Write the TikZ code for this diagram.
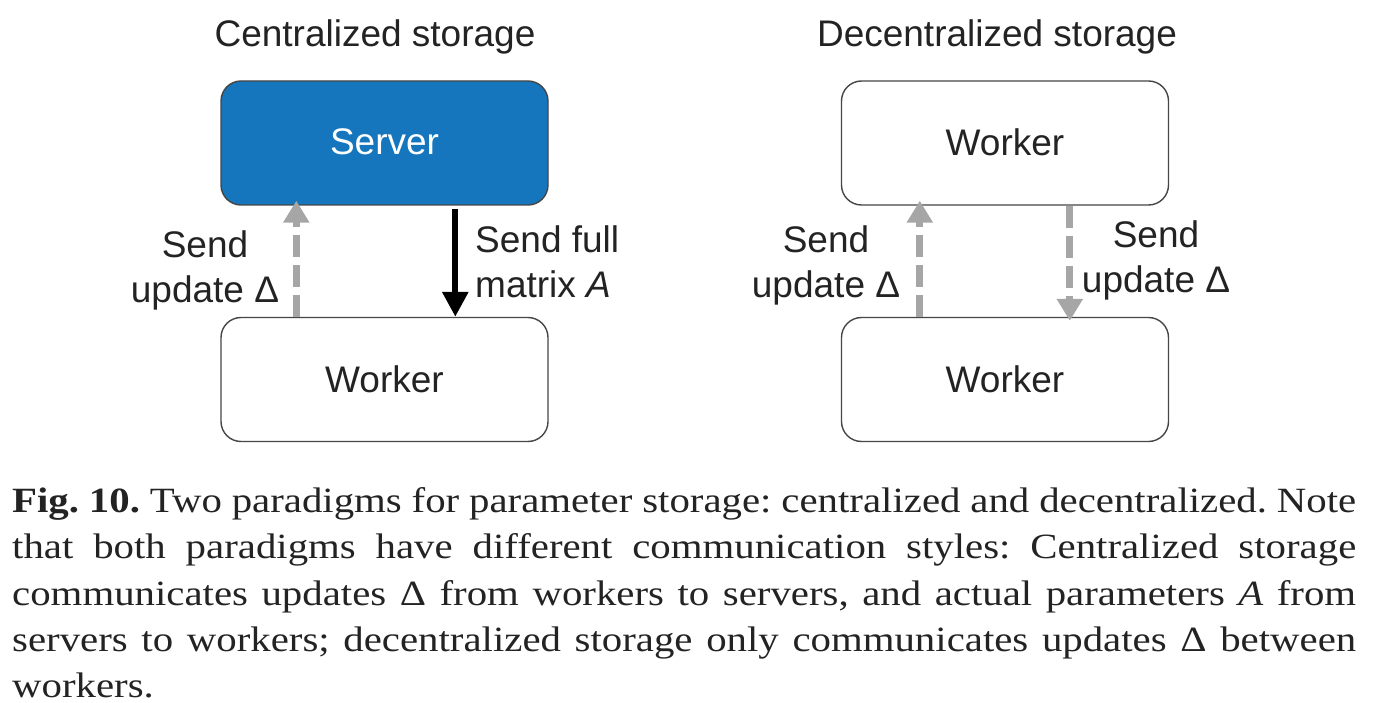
\documentclass[tikz,border=0pt]{standalone}
\usepackage{fontspec}
\setmainfont{Liberation Sans}
\newfontfamily\capfont[FakeStretch=1.15]{Liberation Serif}
\usetikzlibrary{arrows.meta}
\definecolor{srvblue}{RGB}{21,118,189}
\definecolor{arrgray}{RGB}{166,166,166}
\definecolor{boxline}{RGB}{70,70,70}
\definecolor{txt}{RGB}{35,35,35}
\frenchspacing
\begin{document}
\begin{tikzpicture}[x=1pt,y=-1pt,
  box/.style={draw=boxline, line width=1.4pt, rounded corners=20pt, minimum width=327pt, minimum height=124pt, inner sep=0pt, font=\fontsize{37}{40}\selectfont, text=txt},
  lbl/.style={font=\fontsize{37}{45}\selectfont, text=txt, inner sep=0pt},
  ttl/.style={font=\fontsize{37}{40}\selectfont, text=txt, inner sep=0pt, anchor=base},
  upd/.style={draw=arrgray, line width=7pt, dash pattern=on 22pt off 8pt, -{Triangle[width=25pt,length=22pt]}},
  full/.style={draw=black, line width=6pt, -{Triangle[width=25pt,length=25pt]}},
  capline/.style={anchor=base west, inner sep=0pt, font=\capfont\fontsize{35.5}{46}\selectfont, text=txt}]
\fill[white] (0,0) rectangle (1384,703);
\useasboundingbox (0,0) rectangle (1384,703);
% titles
\node[ttl] (t1) at (375,47) {Centralized storage};
\node[ttl] (t2) at (997,47) {Decentralized storage};
% boxes
\node[box, fill=srvblue, text=white] (srv) at (384.5,143) {\raisebox{2pt}{Server}};
\node[box] (wl) at (384.5,379.5) {\raisebox{-3pt}{Worker}};
\node[box] (wt) at (1005,143) {\raisebox{2pt}{Worker}};
\node[box] (wb) at (1005,379.5) {\raisebox{-3pt}{Worker}};
% arrows
\draw[upd] ([xshift=76pt]wl.north west) -- ([xshift=76pt,yshift=5pt]srv.south west);
\draw[full] ([xshift=235pt,yshift=-3pt]srv.south west) -- ([xshift=235pt]wl.north west);
\draw[upd] ([xshift=79pt]wb.north west) -- ([xshift=79pt,yshift=5pt]wt.south west);
\draw[upd] ([xshift=229pt]wt.south west) -- ([xshift=229pt,yshift=-4pt]wb.north west);
% labels
\node[lbl, anchor=north, align=center] (l1) at (205,230) {Send\\update Δ};
\node[lbl, anchor=north west, align=left] (l2) at (475,225) {Send full\\matrix {\itshape A}};
\node[lbl, anchor=north, align=center] (l3) at (826,225) {Send\\update Δ};
\node[lbl, anchor=north, align=center] (l4) at (1156,220) {Send\\update Δ};
% caption
\node[capline] (c1) at (12,512) {\makebox[1344pt][s]{\textbf{Fig. 10.} Two paradigms for parameter storage: centralized and decentralized. Note}};
\node[capline] (c2) at (12,558.5) {\makebox[1344pt][s]{that both paradigms have different communication styles: Centralized storage}};
\node[capline] (c3) at (12,605) {\makebox[1344pt][s]{communicates updates Δ from workers to servers, and actual parameters {\itshape A} from}};
\node[capline] (c4) at (12,651) {\makebox[1344pt][s]{servers to workers; decentralized storage only communicates updates Δ between}};
\node[capline] (c5) at (12,697) {workers.};
\end{tikzpicture}
\end{document}
